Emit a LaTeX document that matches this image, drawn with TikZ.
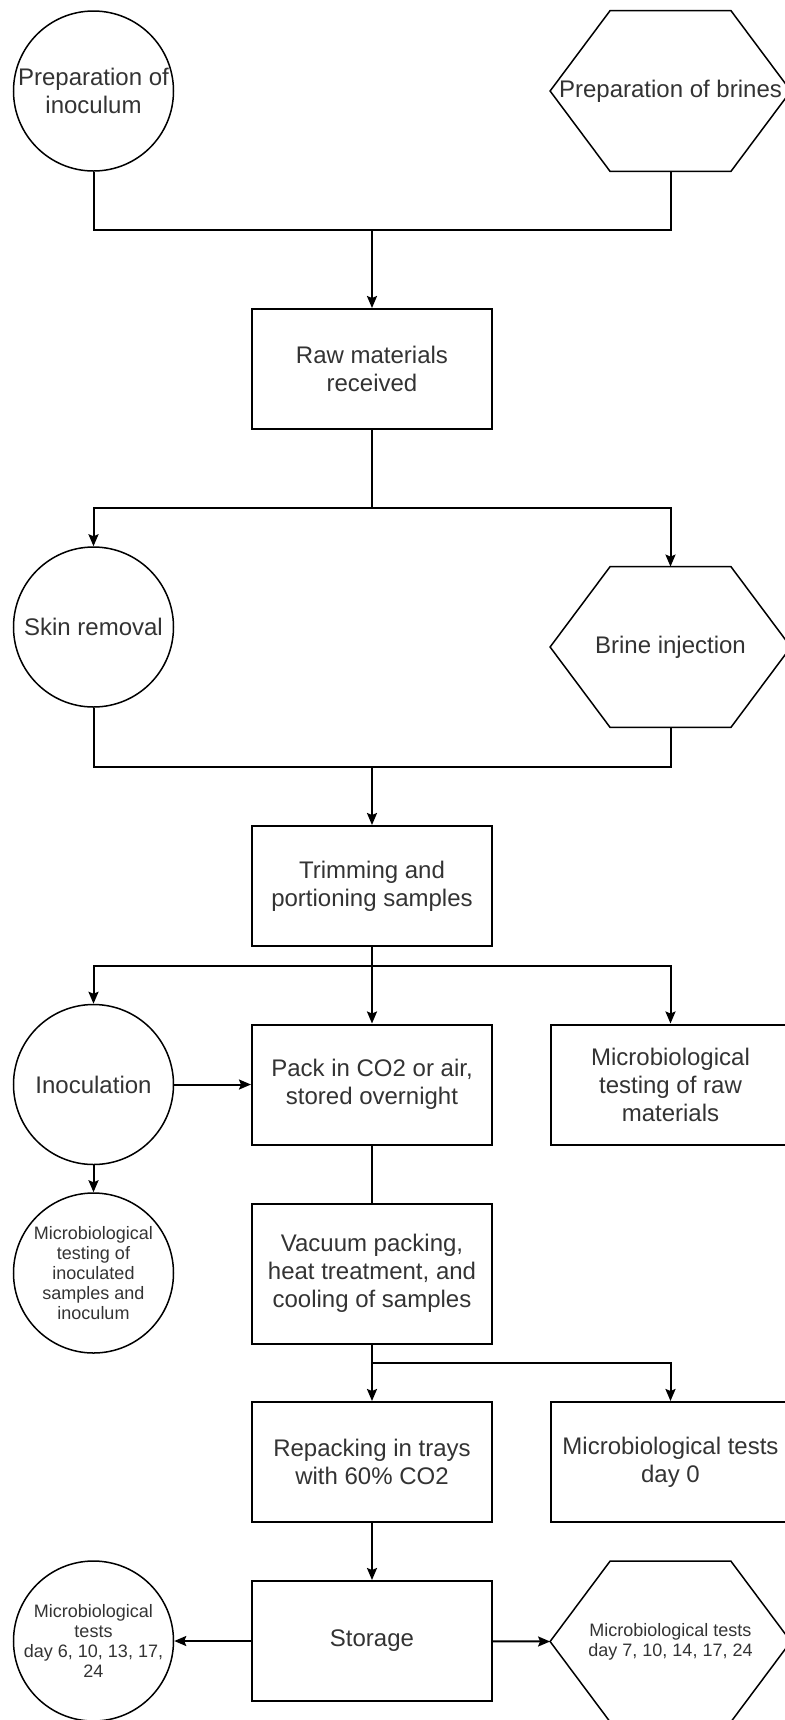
\documentclass[tikz,border=0pt]{standalone}
\usepackage{fontspec}
\setmainfont{Liberation Sans}
\usetikzlibrary{arrows.meta, positioning, shapes.geometric}

\begin{document}
\begin{tikzpicture}[x=0.5pt, y=-0.5pt,
    every node/.style={text=black!80, align=center, font=\fontsize{12pt}{14pt}\selectfont},
    stepbox/.style={draw, line width=1pt, minimum width=120pt, minimum height=60pt, inner sep=2pt},
    roundstep/.style={draw, circle, line width=0.75pt, minimum size=80pt, inner sep=0pt},
    hexstep/.style={rectangle, minimum width=120pt, minimum height=80pt, inner sep=0pt},
    hexline/.style={line width=0.75pt, line join=miter},
    smalltext/.style={font=\fontsize{9pt}{10pt}\selectfont},
    wire/.style={line width=1pt},
    link/.style={line width=1pt, -{Stealth[length=6pt, width=5pt, inset=1pt]}}]

  \useasboundingbox (0,0) rectangle (784,1720);

  % Preparation
  \node[roundstep] (prepinoc) at (93.5,91) {Preparation of\\inoculum};
  \node[hexstep] (prepbrine) at (670.5,91) {Preparation of brines};
  \node[stepbox] (raw) at (372,369) {Raw materials\\received};

  % First treatment
  \node[roundstep] (skin) at (93.5,627) {Skin removal};
  \node[hexstep] (brineinj) at (670.5,647) {Brine injection};
  \node[stepbox] (trim) at (372,886) {Trimming and\\portioning samples};

  % Inoculation and packing
  \node[roundstep] (inoc) at (93.5,1084.5) {Inoculation};
  \node[stepbox] (pack) at (372,1084.5) {Pack in CO2 or air,\\stored overnight};
  \node[stepbox] (microraw) at (670.5,1084.5) {Microbiological\\testing of raw\\materials};
  \node[roundstep, smalltext] (microinoc) at (93.5,1273) {Microbiological\\testing of\\inoculated\\samples and\\inoculum};
  \node[stepbox, minimum height=70pt] (vacuum) at (372,1273.5) {Vacuum packing,\\heat treatment, and\\cooling of samples};

  % Storage
  \node[stepbox] (repack) at (372,1462) {Repacking in trays\\with 60\% CO2};
  \node[stepbox] (day0) at (670.5,1462) {Microbiological tests\\day 0};
  \node[stepbox] (storage) at (372,1641) {Storage};
  \node[roundstep, smalltext] (testsleft) at (93.5,1641) {Microbiological\\tests\\day 6, 10, 13, 17,\\24};
  \node[hexstep, smalltext] (testsright) at (670.5,1641.5) {Microbiological tests\\day 7, 10, 14, 17, 24};

  % Hexagon outlines
  \foreach \n in {prepbrine, brineinj, testsright}
    \draw[hexline] (\n.west) -- ([xshift=30pt]\n.north west) -- ([xshift=-30pt]\n.north east)
      -- (\n.east) -- ([xshift=-30pt]\n.south east) -- ([xshift=30pt]\n.south west) -- cycle;

  % Junctions
  \coordinate (mergeprep) at (372,230);
  \coordinate (splitraw) at (372,508);
  \coordinate (mergeproc) at (372,767);
  \coordinate (splittrim) at (372,966);
  \coordinate (splitvac) at (372,1363);

  % Connectors
  \draw[wire] (prepinoc.south) |- (mergeprep) -| (prepbrine.south);
  \draw[link] (mergeprep) -- (raw.north);
  \draw[wire] (raw.south) -- (splitraw);
  \draw[link] (splitraw) -| (skin.north);
  \draw[link] (splitraw) -| (brineinj.north);
  \draw[wire] (skin.south) |- (mergeproc) -| (brineinj.south);
  \draw[link] (mergeproc) -- (trim.north);
  \draw[wire] (trim.south) -- (splittrim);
  \draw[link] (splittrim) -| (inoc.north);
  \draw[link] (splittrim) -- (pack.north);
  \draw[link] (splittrim) -| (microraw.north);
  \draw[link] (inoc) -- (pack);
  \draw[link] (inoc) -- (microinoc);
  \draw[wire] (pack) -- (vacuum);
  \draw[wire] (vacuum.south) -- (splitvac);
  \draw[link] (splitvac) -- (repack.north);
  \draw[link] (splitvac) -| (day0.north);
  \draw[link] (repack) -- (storage);
  \draw[link] (storage) -- (testsleft);
  \draw[link] (storage) -- (testsright.west);
\end{tikzpicture}
\end{document}
